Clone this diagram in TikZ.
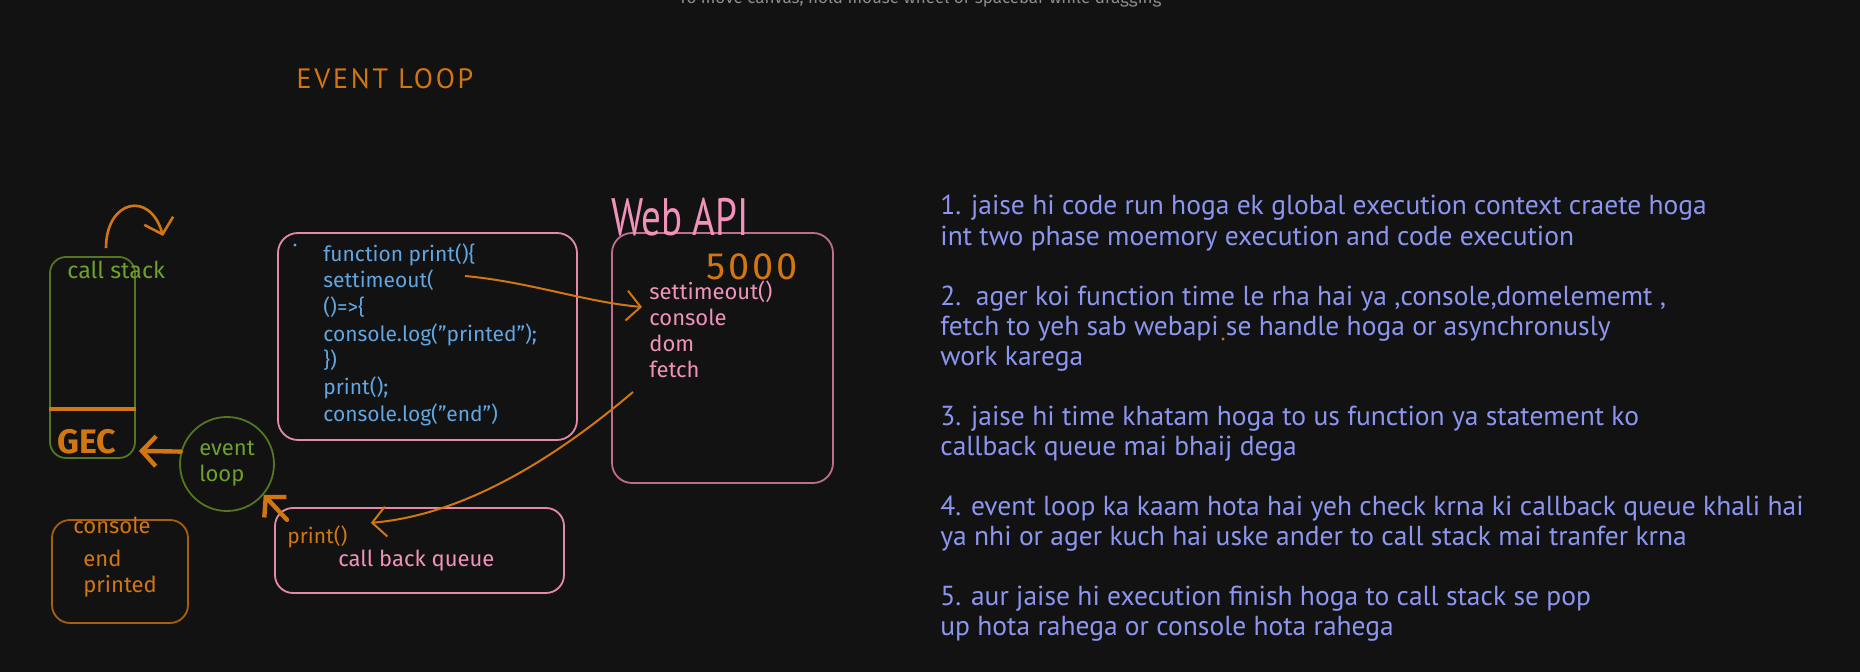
\documentclass[tikz,border=0pt]{standalone}
\usepackage{fontspec}
\setmainfont{Fira Sans}
\newfontfamily\notefont{PT Sans}
\usetikzlibrary{arrows.meta}

\definecolor{canvas}{RGB}{18,18,18}
\definecolor{penorange}{RGB}{210,118,18}
\definecolor{stackgreen}{RGB}{84,118,34}
\definecolor{textgreen}{RGB}{112,160,44}
\definecolor{boxpink}{RGB}{228,138,168}
\definecolor{apipink}{RGB}{190,110,140}
\definecolor{textpink}{RGB}{240,146,186}
\definecolor{codeblue}{RGB}{96,166,226}
\definecolor{noteblue}{RGB}{140,150,240}
\definecolor{hintgrey}{RGB}{140,140,140}

\begin{document}
\begin{tikzpicture}[
        x=0.5pt, y=-0.5pt,
        font=\fontsize{11}{13}\selectfont,
        % Rahmen
        stackbox/.style={draw=stackgreen, line width=0.9pt, rectangle, rounded corners=8pt, minimum width=42.5pt, minimum height=100.5pt},
        consolebox/.style={draw=penorange!80!black, line width=0.9pt, rectangle, rounded corners=9pt, minimum width=68pt, minimum height=51.5pt},
        codebox/.style={draw=boxpink, line width=0.9pt, rectangle, rounded corners=10pt, minimum width=149.5pt, minimum height=103.5pt},
        apibox/.style={draw=apipink, line width=0.9pt, rectangle, rounded corners=10pt, minimum width=110.5pt, minimum height=125pt},
        queuebox/.style={draw=boxpink, line width=0.9pt, rectangle, rounded corners=9pt, minimum width=144.5pt, minimum height=42.5pt},
        loopcircle/.style={draw=stackgreen, line width=0.9pt, circle, minimum size=47pt, inner sep=0pt, text=textgreen, align=left},
        txt/.style={inner sep=0pt, anchor=base west},
        flow/.style={-{Straight Barb[length=7pt, width=15pt]}, line width=1pt, draw=penorange},
        bigflow/.style={-{Straight Barb[length=7pt, width=15pt]}, line width=2.2pt, draw=penorange, line cap=round}
    ]

    \useasboundingbox (0,0) rectangle (1860,672);
    \clip (0,0) rectangle (1860,672);
    \fill[canvas] (0,0) rectangle (1860,672);

    % ==========================================
    % 1. KNOTEN
    % ==========================================

    \node[txt, anchor=base, text=hintgrey, font=\fontsize{8.5}{10}\selectfont] (hint) at (920,4) {To move canvas, hold mouse wheel or spacebar while dragging};

    \node[txt, anchor=base, text=penorange, font=\notefont\fontsize{14}{16}\selectfont\addfontfeature{LetterSpace=10}] (title) at (385,89) {EVENT LOOP};

    % Call stack
    \node[stackbox] (stack) at (92.5,357.5) {};
    \node[txt, text=textgreen, font=\fontsize{11.6}{13}\selectfont] (stacklabel) at (67,279) {call stack};
    \node[txt, anchor=center, text=penorange, font=\fontsize{17}{18}\selectfont\bfseries] (gec) at (87,442) {GEC};

    % Event loop
    \node[loopcircle] (loop) at (227,464) {event\\loop};

    % Console
    \node[consolebox] (console) at (120,571.5) {};
    \node[txt, text=penorange] (consolelabel) at (73,534) {console};
    \node[txt, text=penorange] (outend) at (83,567) {end};
    \node[txt, text=penorange] (outprinted) at (83,593) {printed};

    % Code
    \node[codebox] (codeframe) at (427.5,336.5) {};
    \node[inner sep=0pt, anchor=north west, align=left, text=codeblue, font=\fontsize{10.5}{13.35}\selectfont] (code) at (323,243) {function print()\{\\settimeout(\\()=>\{\\console.log("printed");\\\})\\print();\\console.log("end")};
    \fill[codeblue] (295,245) circle (0.8pt);

    % Web API
    \node[apibox] (api) at (722.5,358) {};
    \node[txt, anchor=base, text=textpink, font=\notefont\fontsize{19.5}{21}\selectfont] (apititle) at (680,236) {\scalebox{1}[1.35]{Web API}};
    \node[txt, anchor=base, text=penorange, font=\fontsize{19}{21}\selectfont\addfontfeature{LetterSpace=8}] (delay) at (752,280) {5000};
    \node[inner sep=0pt, anchor=north west, align=left, text=textpink, font=\fontsize{11}{13}\selectfont] (apilist) at (649,281) {settimeout()\\console\\dom\\fetch};

    % Callback queue
    \node[queuebox] (queue) at (419.5,550.5) {};
    \node[txt, text=penorange, font=\fontsize{10.5}{12}\selectfont] (cbprint) at (287,544) {print()};
    \node[txt, text=textpink] (queuelabel) at (338,567) {call back queue};

    % Notizen
    \node[inner sep=0pt, anchor=north west, align=left, text=noteblue, font=\notefont\fontsize{13.75}{15.05}\selectfont] (notes) at (940,195) {%
        1. jaise hi code run hoga ek global execution context craete hoga\\
        int two phase moemory execution and code execution\\[15pt]
        2.\ \ ager koi function time le rha hai ya ,console,domelememt ,\\
        fetch to yeh sab webapi se handle hoga or asynchronusly\\
        work karega\\[15pt]
        3. jaise hi time khatam hoga to us function ya statement ko\\
        callback queue mai bhaij dega\\[15pt]
        4. event loop ka kaam hota hai yeh check krna ki callback queue khali hai\\
        ya nhi or ager kuch hai uske ander to call stack mai tranfer krna\\[15pt]
        5. aur jaise hi execution finish hoga to call stack se pop\\
        up hota rahega or console hota rahega};
    \fill[penorange] (1223,339) circle (0.8pt);

    % ==========================================
    % 2. VERBINDUNGEN
    % ==========================================

    \coordinate (popto) at (163,236);
    \coordinate (timerout) at (465,276);
    \coordinate (timerin) at (642,307);
    \coordinate (apiout) at (633,392);

    \draw[penorange, line width=2pt] ([yshift=25pt]stack.south west) -- ([yshift=25pt]stack.south east);

    \draw[flow, line width=1.3pt] ([xshift=6.75pt, yshift=4pt]stack.north) .. controls (106,200) and (150,190) .. (popto);

    \draw[flow] (timerout) .. controls (530,282) and (585,302) .. (timerin);

    \draw[flow] (apiout) .. controls (553,460) and (463,515) .. ([xshift=11.5pt, yshift=1.5pt]cbprint.north east);

    \draw[bigflow] ([yshift=3pt]cbprint.north west) -- (loop.-40);

    \draw[bigflow] (loop.165) -- ([xshift=1.5pt, yshift=4pt]stack.south east);

\end{tikzpicture}
\end{document}
